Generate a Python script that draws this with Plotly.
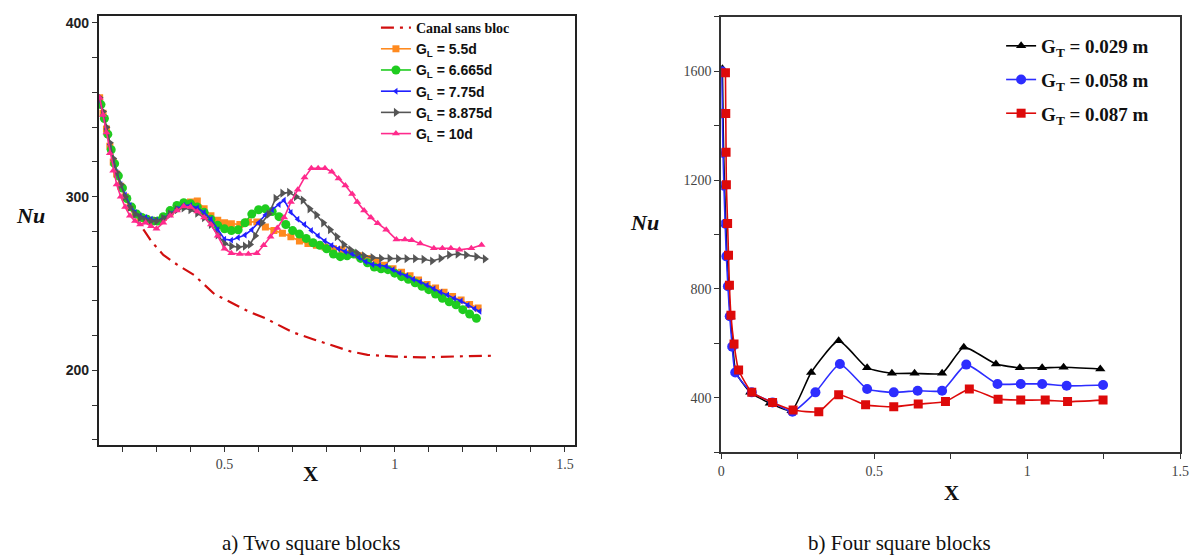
import plotly.graph_objects as go

# ---------------- Panel a) Two square blocks ----------------
x_canal = [0.133, 0.153, 0.173, 0.195, 0.222, 0.25, 0.262, 0.286, 0.32, 0.36, 0.41, 0.47, 0.52,
           0.57, 0.62, 0.70, 0.76, 0.82, 0.87, 0.92, 1.0, 1.08, 1.15, 1.22, 1.29]
nu_canal = [357, 339, 320, 306, 294, 284, 281, 274, 266.5, 261, 255, 244, 239,
            234, 230, 222, 218, 214, 211, 209, 208, 207.5, 208, 208.3, 208.5]

x_55 = [0.133, 0.143, 0.153, 0.163, 0.173, 0.183, 0.195, 0.208, 0.222, 0.237, 0.252, 0.268, 0.284, 0.30,
        0.32, 0.34, 0.36, 0.38, 0.40, 0.42, 0.44, 0.46, 0.48, 0.50, 0.52, 0.545, 0.57, 0.595, 0.62,
        0.645, 0.67, 0.695, 0.72, 0.745, 0.77, 0.795, 0.82, 0.845, 0.87, 0.895, 0.92, 0.945, 0.97,
        0.995, 1.02, 1.045, 1.07, 1.095, 1.12, 1.145, 1.17, 1.195, 1.22, 1.245]
nu_55 = [357, 348, 339, 329, 320, 313, 306, 300, 294, 290, 288, 287, 286, 286,
         288, 291, 294, 296, 297, 297.5, 293, 289, 286.5, 285, 284.5, 284, 285.5, 285.5, 282.5,
         280.5, 279, 277, 274.5, 273, 272, 271, 270, 269.5, 267.5, 266, 264.5, 263, 260.5,
         258.5, 256.5, 254.5, 252, 249.5, 247.5, 245, 242.5, 240.5, 238, 236]

x_6665 = [0.137, 0.147, 0.157, 0.167, 0.177, 0.188, 0.2, 0.213, 0.227, 0.242, 0.257, 0.272, 0.288, 0.304,
          0.32, 0.34, 0.36, 0.38, 0.40, 0.42, 0.44, 0.46, 0.48, 0.50, 0.52, 0.54, 0.56, 0.58, 0.60,
          0.62, 0.64, 0.66, 0.68, 0.70, 0.72, 0.74, 0.76, 0.78, 0.80, 0.82, 0.84, 0.86, 0.88, 0.90,
          0.92, 0.94, 0.96, 0.98, 1.00, 1.02, 1.04, 1.06, 1.08, 1.10, 1.12, 1.14, 1.16, 1.18, 1.20,
          1.22, 1.24]
nu_6665 = [353, 345, 336, 327, 319, 312, 305, 299, 294, 290, 288, 287, 286, 286,
           288.5, 292, 295, 296.5, 296, 294, 291, 287, 283.5, 281.5, 280.5, 281, 285, 290, 292.5,
           293, 291.5, 288.5, 284, 280.5, 278.5, 276, 273.5, 272, 270, 267, 265.5, 266, 267, 264.5,
           262, 259.5, 258.5, 258, 256, 254, 252.5, 250.5, 248.5, 246.5, 244, 241.5, 239.5, 237.8, 235,
           232.5, 230]

x_775 = [0.133, 0.143, 0.153, 0.163, 0.173, 0.183, 0.195, 0.208, 0.222, 0.237, 0.252, 0.268, 0.284, 0.30,
         0.32, 0.34, 0.36, 0.38, 0.40, 0.42, 0.44, 0.46, 0.48, 0.50, 0.52, 0.54, 0.56, 0.58, 0.60,
         0.62, 0.64, 0.66, 0.675, 0.695, 0.715, 0.735, 0.755, 0.775, 0.795, 0.815, 0.835, 0.855,
         0.875, 0.895, 0.915, 0.935, 0.955, 0.975, 0.995, 1.015, 1.035, 1.055, 1.075, 1.095, 1.115,
         1.135, 1.155, 1.175, 1.195, 1.215, 1.235, 1.25]
nu_775 = [356, 347, 339, 330, 321, 314, 307, 301, 295, 291, 289, 288, 287, 286.5,
          287.5, 290, 293, 295, 295, 293.5, 291, 287, 281, 275.5, 275, 276.5, 278, 281, 285,
          289.5, 292.5, 295.5, 298, 291, 287, 284, 280.5, 277.5, 274.5, 272, 270, 268.5,
          267, 265, 262.5, 261, 260.5, 260, 258, 256, 254.5, 252.5, 251, 249, 247,
          245, 243.5, 241.5, 240, 237.5, 235.5, 234]

x_8875 = [0.133, 0.143, 0.153, 0.163, 0.173, 0.183, 0.195, 0.208, 0.222, 0.237, 0.252, 0.268, 0.284, 0.30,
          0.32, 0.34, 0.36, 0.38, 0.40, 0.42, 0.44, 0.46, 0.48, 0.50, 0.52, 0.54, 0.56, 0.575, 0.59,
          0.61, 0.63, 0.65, 0.67, 0.69, 0.71, 0.73, 0.75, 0.77, 0.79, 0.81, 0.83, 0.85, 0.87, 0.89,
          0.91, 0.935, 0.96, 0.985, 1.01, 1.035, 1.06, 1.085, 1.11, 1.135, 1.16, 1.185, 1.21,
          1.24, 1.265]
nu_8875 = [357, 349, 340, 331, 322, 314, 307, 300, 294, 290, 288, 286.5, 286, 286,
           287.5, 290, 292.5, 293.5, 292.5, 290.5, 288, 284, 278, 273, 271.5, 271, 271.5, 272.5, 277.5,
           285, 290, 299, 302, 302.5, 300, 298, 293, 289.5, 285, 281, 277, 272.5, 269.5, 267.5,
           266, 265, 264.5, 264.5, 264.3, 264.3, 264.3, 264, 263, 264.5, 266.5, 267, 266.5,
           265.5, 264.2]

x_10 = [0.133, 0.143, 0.153, 0.163, 0.173, 0.183, 0.195, 0.208, 0.222, 0.237, 0.252, 0.268, 0.284, 0.30,
        0.32, 0.34, 0.36, 0.38, 0.40, 0.42, 0.44, 0.46, 0.48, 0.50, 0.52, 0.545, 0.57, 0.595,
        0.615, 0.635, 0.655, 0.675, 0.695, 0.715, 0.735, 0.755, 0.775, 0.795, 0.815, 0.835, 0.855,
        0.875, 0.89, 0.91, 0.93, 0.95, 0.975, 1.005, 1.03, 1.05, 1.075, 1.115, 1.14, 1.165, 1.19,
        1.225, 1.255]
nu_10 = [357, 347, 337, 325, 315, 307, 300, 294, 289, 286, 284, 285, 283, 281.5,
         285, 289, 292, 294.5, 294, 291.5, 288, 284, 277.5, 270, 267.5, 267, 267, 267.5,
         272, 277, 282, 288, 297, 304, 311, 316.3, 316.3, 316.3, 314.4, 310.5, 306.5,
         301.5, 297, 292, 288, 284.7, 281, 275.3, 275.3, 275, 273, 270.3, 270.3, 270.3, 269.4,
         270.3, 272.2]

# ---------------- Panel b) Four square blocks ----------------
x_029 = [0.004, 0.006, 0.008, 0.011, 0.015, 0.019, 0.024, 0.03, 0.038, 0.048, 0.095, 0.159, 0.23,
         0.294, 0.384, 0.477, 0.558, 0.632, 0.722, 0.793, 0.898, 0.976, 1.049, 1.119, 1.239]
nu_029 = [1610, 1440, 1300, 1180, 1040, 920, 810, 700, 590, 493, 420, 380, 352,
          493, 610, 510, 490, 490, 490, 586, 524, 510, 510, 512, 506]

x_058 = [0.002, 0.004, 0.006, 0.009, 0.013, 0.017, 0.022, 0.028, 0.036, 0.046, 0.1, 0.168, 0.233,
         0.308, 0.388, 0.477, 0.564, 0.642, 0.722, 0.801, 0.903, 0.979, 1.049, 1.129, 1.248]
nu_058 = [1600, 1445, 1300, 1180, 1040, 920, 810, 700, 588, 493, 420, 383, 349,
          420, 524, 432, 420, 426, 426, 522, 451, 451, 451, 444, 447]

x_087 = [0.014, 0.015, 0.016, 0.017, 0.021, 0.024, 0.027, 0.032, 0.042, 0.057, 0.1, 0.168, 0.235,
         0.319, 0.384, 0.472, 0.564, 0.644, 0.733, 0.811, 0.905, 0.979, 1.059, 1.132, 1.248]
nu_087 = [1595, 1445, 1303, 1183, 1041, 924, 814, 703, 598, 502, 420, 383, 355,
          349, 411, 374, 367, 377, 386, 432, 395, 391.5, 391.5, 386, 391.5]

SERIF = "Liberation Serif"
SANS = "Liberation Sans"

fig = go.Figure()

# left panel traces
fig.add_trace(go.Scatter(x=x_canal, y=nu_canal, mode="lines",
                         line=dict(color="#d10f0f", width=2.2, dash="13px,6px,3px,6px"),
                         name='<span style="font-family:Liberation Serif">Canal sans bloc</span>',
                         xaxis="x", yaxis="y", legend="legend"))
left_specs = [
    (x_55, nu_55, "#ff8a1f", "square", 7, "G<sub>L</sub> = 5.5d"),
    (x_6665, nu_6665, "#1fcc1f", "circle", 9, "G<sub>L</sub> = 6.665d"),
    (x_775, nu_775, "#2020ff", "triangle-left", 6, "G<sub>L</sub> = 7.75d"),
    (x_8875, nu_8875, "#555555", "triangle-right", 8, "G<sub>L</sub> = 8.875d"),
    (x_10, nu_10, "#ff2a8c", "triangle-up", 7, "G<sub>L</sub> = 10d"),
]
for xs, ys, col, sym, sz, nm in left_specs:
    fig.add_trace(go.Scatter(x=xs, y=ys, mode="lines+markers", name=nm,
                             line=dict(color=col, width=1.6),
                             marker=dict(symbol=sym, size=sz, color=col),
                             xaxis="x", yaxis="y", legend="legend"))

# right panel traces
right_specs = [
    (x_029, nu_029, "#000000", "triangle-up", 9, "G<sub>T</sub> = 0.029 m"),
    (x_058, nu_058, "#2d2dff", "circle", 10, "G<sub>T</sub> = 0.058 m"),
    (x_087, nu_087, "#dd0a0a", "square", 9, "G<sub>T</sub> = 0.087 m"),
]
for xs, ys, col, sym, sz, nm in right_specs:
    fig.add_trace(go.Scatter(x=xs, y=ys, mode="lines+markers", name=nm,
                             line=dict(color=col, width=1.6, shape="spline", smoothing=0.5),
                             marker=dict(symbol=sym, size=sz, color=col),
                             xaxis="x2", yaxis="y2", legend="legend2", legendgroup=nm))

W, H = 1204, 558
def px_x(p):
    return p / W
def px_y(p):
    return 1 - p / H

axis_common = dict(showgrid=False, zeroline=False, showline=True, mirror=True,
                   ticks="outside", ticklen=5, tickwidth=1)

fig.update_layout(
    width=W, height=H,
    margin=dict(l=0, r=0, t=0, b=0),
    paper_bgcolor="white", plot_bgcolor="white",
    xaxis=dict(domain=[px_x(96), px_x(577)], range=[0.131, 1.529], anchor="y",
               tickvals=[0.5, 1, 1.5], ticktext=["0.5", "1", "1.5"],
               tickfont=dict(family=SERIF, size=14, color="#444444"),
               minor=dict(dtick=0.1, tick0=0, ticks="outside", ticklen=5, tickcolor="#333333"),
               linecolor="#222222", linewidth=2, tickcolor="#333333", **axis_common),
    yaxis=dict(domain=[px_y(445), px_y(15)], range=[157, 404], anchor="x",
               tickvals=[200, 300, 400],
               tickfont=dict(family=SANS, size=14, color="#222222", weight="bold"),
               minor=dict(dtick=20, tick0=0, ticks="outside", ticklen=5, tickcolor="#333333"),
               linecolor="#222222", linewidth=2, tickcolor="#333333", **axis_common),
    xaxis2=dict(domain=[px_x(725), px_x(1189)], range=[0, 1.5], anchor="y2",
                tickvals=[0, 0.5, 1, 1.5], ticktext=["0", "0.5", "1", "1.5"],
                tickfont=dict(family=SERIF, size=14, color="#444444"),
                minor=dict(dtick=0.25, tick0=0, ticks="outside", ticklen=5, tickcolor="#333333"),
                linecolor="#333333", linewidth=1.5, tickcolor="#333333", **axis_common),
    yaxis2=dict(domain=[px_y(452), px_y(16)], range=[200, 1800], anchor="x2",
                tickvals=[400, 800, 1200, 1600],
                tickfont=dict(family=SERIF, size=14, color="#444444"),
                minor=dict(dtick=200, tick0=0, ticks="outside", ticklen=5, tickcolor="#333333"),
                linecolor="#333333", linewidth=1.5, tickcolor="#333333", **axis_common),
    legend=dict(x=px_x(376), y=px_y(11), xanchor="left", yanchor="top",
                bgcolor="rgba(255,255,255,0)", borderwidth=0, tracegroupgap=0,
                font=dict(family=SANS, size=14, color="#111111", weight="bold")),
    legend2=dict(x=px_x(1008), y=px_y(26), xanchor="left", yanchor="top",
                 bgcolor="rgba(255,255,255,0)", borderwidth=0, tracegroupgap=6,
                 font=dict(family=SERIF, size=19, color="#111111", weight="bold")),
    showlegend=True,
)

ann = [
    dict(text="<b><i>Nu</i></b>", x=px_x(27), y=px_y(215), font=dict(family=SERIF, size=22, color="#111")),
    dict(text="<b>X</b>", x=px_x(310), y=px_y(474), font=dict(family=SERIF, size=21, color="#111")),
    dict(text="a) Two square blocks", x=px_x(310), y=px_y(543), font=dict(family=SERIF, size=21, color="#111")),
    dict(text="<b><i>Nu</i></b>", x=px_x(647), y=px_y(222), font=dict(family=SERIF, size=22, color="#111")),
    dict(text="<b>X</b>", x=px_x(958), y=px_y(493), font=dict(family=SERIF, size=21, color="#111")),
    dict(text="b) Four square blocks", x=px_x(905), y=px_y(543), font=dict(family=SERIF, size=21, color="#111")),
]
for a in ann:
    fig.add_annotation(xref="paper", yref="paper", showarrow=False, xanchor="center", yanchor="middle", **a)

fig.write_html("out.html")
